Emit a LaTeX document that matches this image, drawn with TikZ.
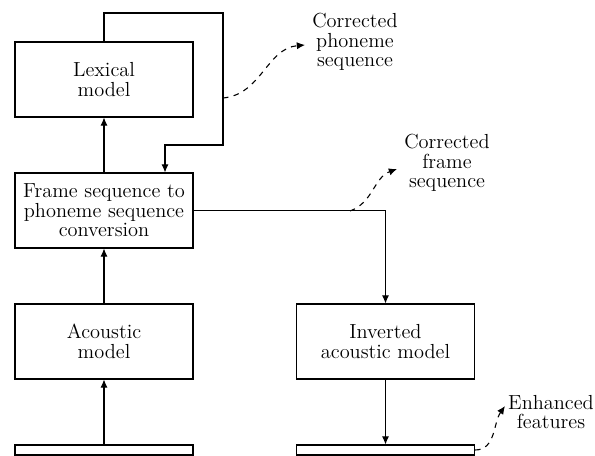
\documentclass[tikz,border=0pt]{standalone}
\usepackage{amssymb}
\usepackage{amsmath}
\usepackage{xcolor}
\usepackage{tikz}
\usetikzlibrary{arrows.meta}

\begin{document}
\begin{tikzpicture}[x=0.55pt, y=-0.55pt, line width=0.6pt,
  font=\fontsize{11.2}{10.8}\selectfont,
  bloc/.style={draw, align=center, minimum width=97.9pt, minimum height=41.25pt, inner sep=0pt},
  barre/.style={draw, minimum width=97.9pt, minimum height=5.5pt, inner sep=0pt},
  texte/.style={align=center, inner sep=0pt},
  fleche/.style={-{Latex[length=4.5pt,width=4pt]}},
  courbe/.style={dashed, -{Latex[length=4.5pt,width=4pt]}}]
\useasboundingbox (0,0) rectangle (595,456);

%% blocs de gauche
\node[bloc] (lex) at (104,79.5) {Lexical\\model};
\node[bloc] (conv) at (104,210.5) {Frame sequence to\\phoneme sequence\\conversion};
\node[bloc] (ac) at (104,341.5) {Acoustic\\model};
\node[barre] (entree) at (104,450) {};

%% blocs de droite
\node[bloc] (inv) at (385.5,341.5) {Inverted\\acoustic model};
\node[barre] (sortie) at (385.5,450) {};

%% etiquettes
\node[texte] (phon) at (355,42) {Corrected\\phoneme\\sequence};
\node[texte] (trame) at (447,163) {Corrected\\frame\\sequence};
\node[texte] (enh) at (551,412) {Enhanced\\features};

%% fleches verticales
\draw[fleche] (entree) -- (ac);
\draw[fleche] (ac) -- (conv);
\draw[fleche] (conv) -- (lex);
\draw[fleche] (inv) -- (sortie);

%% boucle du modele lexical
\coordinate (b1) at (104,13);
\coordinate (b2) at (223,13);
\coordinate (b3) at (223,145);
\coordinate (b4) at (165,145);
\draw[fleche] (lex.north) -- (b1) -- (b2) -- (b3) -- (b4) -- (b4 |- conv.north);

%% sortie de la conversion
\draw[fleche] (conv.east) -| (inv.north);

%% courbes pointillees
\coordinate (d1) at (223,98);
\coordinate (f1) at (305,45);
\draw[courbe] (d1) to[out=5, in=185] (f1);
\coordinate (d2) at (350,211);
\coordinate (f2) at (397,169);
\draw[courbe] (d2) to[out=20, in=200] (f2);
\coordinate (f3) at (505,406);
\draw[courbe] (sortie.east) to[out=0, in=235] (f3);

\end{tikzpicture}
\end{document}
